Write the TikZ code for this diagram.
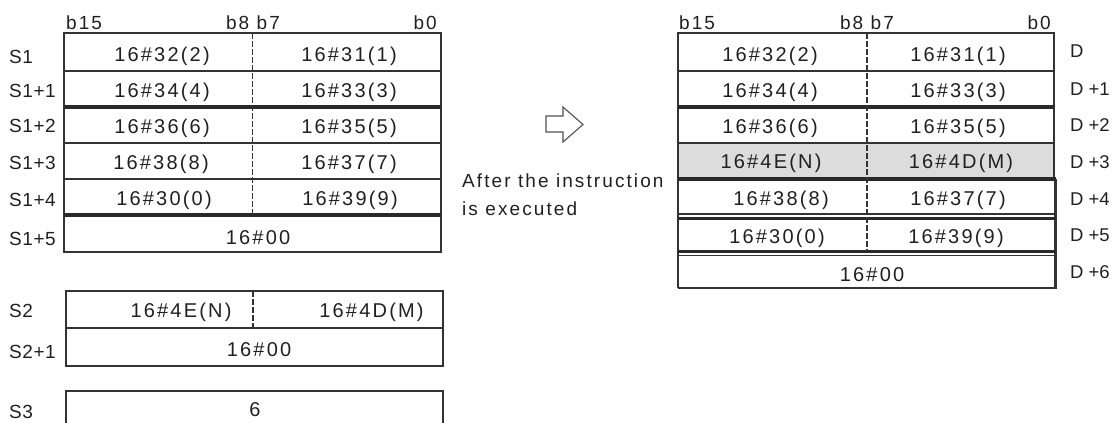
\documentclass[tikz,border=0pt]{standalone}
\usepackage{fontspec}
\setmainfont{Liberation Sans}
\newfontfamily\cellf[LetterSpace=11]{Liberation Sans}
\newfontfamily\labf[LetterSpace=3]{Liberation Sans}
\newfontfamily\rlabf{Liberation Sans}
\definecolor{ink}{HTML}{231F20}
\definecolor{rulec}{HTML}{333333}
\definecolor{cellgray}{HTML}{DCDCDC}
\begin{document}
\begin{tikzpicture}[x=1pt,y=-1pt,
  cell/.style={font=\cellf\fontsize{20}{24}\selectfont, anchor=base, inner sep=0, text=ink},
  lab/.style={font=\labf\fontsize{19}{23}\selectfont, anchor=base west, inner sep=0, text=ink},
  rlab/.style={font=\rlabf\fontsize{18.5}{22}\selectfont, anchor=base west, inner sep=0, text=ink},
  hdr/.style={font=\cellf\fontsize{19}{23}\selectfont, inner sep=0, text=ink},
  captext/.style={font=\cellf\fontsize{19}{23}\selectfont, anchor=base west, inner sep=0, text=ink},
  box/.style={draw=rulec, line width=1.8pt},
  rowline/.style={draw=rulec, line width=1.8pt},
  fineline/.style={draw=rulec, line width=1.3pt},
  heavyline/.style={draw=rulec!80!black, line width=3.5pt},
  divider/.style={draw=rulec, line width=1.6pt, dash pattern=on 6pt off 2pt},
]
\useasboundingbox (0,0) rectangle (1114,423);

% ---------- Left: S1 table ----------
\draw[box] (64,33) rectangle (441,252);
\draw[rowline] (64,71) -- (441,71);
\draw[heavyline] (64,107) -- (441,107);
\draw[rowline] (64,143) -- (441,143);
\draw[rowline] (64,179) -- (441,179);
\draw[heavyline] (64,215) -- (441,215);
\draw[divider] (252.5,33) -- (252.5,215);

\node[hdr, anchor=base west] (lb15) at (66,29) {b15};
\node[hdr, anchor=base] (lb87) at (253,29) {b8 b7};
\node[hdr, anchor=base east] (lb0) at (437,29) {b0};

\node[cell] (a1l) at (162,61.5) {16\#32(2)};
\node[cell] (a1r) at (349,61.5) {16\#31(1)};
\node[cell] (a2l) at (162,97.5) {16\#34(4)};
\node[cell] (a2r) at (349,97.5) {16\#33(3)};
\node[cell] (a3l) at (162,133) {16\#36(6)};
\node[cell] (a3r) at (349,133) {16\#35(5)};
\node[cell] (a4l) at (161,169) {16\#38(8)};
\node[cell] (a4r) at (349,169) {16\#37(7)};
\node[cell] (a5l) at (164,205) {16\#30(0)};
\node[cell] (a5r) at (350,205) {16\#39(9)};
\node[cell] (a6) at (258,244.5) {16\#00};

\node[lab] (s1) at (9,63) {S1};
\node[lab] (s11) at (9,97.5) {S1+1};
\node[lab] (s12) at (9,132.5) {S1+2};
\node[lab] (s13) at (9,169.5) {S1+3};
\node[lab] (s14) at (9,206) {S1+4};
\node[lab] (s15) at (9,245) {S1+5};

% ---------- S2 ----------
\draw[box] (66,291) rectangle (443,366);
\draw[rowline] (66,328) -- (443,328);
\draw[divider] (253,291) -- (253,328);
\node[cell] (b1l) at (181,317.5) {16\#4E(N)};
\node[cell] (b1r) at (371.5,317.5) {16\#4D(M)};
\node[cell] (b2) at (259,356.5) {16\#00};
\node[lab] (s2) at (9,317) {S2};
\node[lab] (s21) at (9,358) {S2+1};

% ---------- S3 ----------
\draw[box] (66,428) -- (66,391) -- (443,391) -- (443,428);
\node[cell] (c1) at (255,416) {6};
\node[lab] (s3) at (9,418) {S3};

% ---------- Arrow and caption ----------
\draw[draw=rulec!85, line width=1.1pt, fill=white, line join=miter]
  (546,116) -- (563,116) -- (563,107) -- (583,124.5) -- (563,142) -- (563,132) -- (546,132) -- cycle;
\node[captext] (cap1) at (462,187) {After the instruction};
\node[captext] (cap2) at (462,215) {is executed};

% ---------- Right: D table ----------
\fill[cellgray] (678,143) rectangle (1054,179);
\draw[box] (678,288) -- (678,33) -- (1054,33) -- (1054,179);
\draw[box, line width=2.5pt] (1055.5,179) -- (1055.5,288);
\draw[rowline] (678,71) -- (1054,71);
\draw[heavyline] (678,107) -- (1054,107);
\draw[rowline] (678,143) -- (1054,143);
\draw[heavyline] (678,179) -- (1056,179);
\draw[fineline] (678,214) -- (1056,214);
\draw[heavyline] (678,218.5) -- (1056,218.5);
\draw[heavyline] (678,251.5) -- (1056,251.5);
\draw[fineline] (678,255.5) -- (1056,255.5);
\draw[box] (678,288) -- (1056.7,288);
\draw[divider] (867,33) -- (867,251);

\node[hdr, anchor=base west] (rb15) at (679,29) {b15};
\node[hdr, anchor=base] (rb87) at (867,29) {b8 b7};
\node[hdr, anchor=base east] (rb0) at (1051,29) {b0};

\node[cell] (d0l) at (770,61) {16\#32(2)};
\node[cell] (d0r) at (958,61) {16\#31(1)};
\node[cell] (d1l) at (770,97) {16\#34(4)};
\node[cell] (d1r) at (958,97) {16\#33(3)};
\node[cell] (d2l) at (770,133) {16\#36(6)};
\node[cell] (d2r) at (958,133) {16\#35(5)};
\node[cell] (d3l) at (771,168.5) {16\#4E(N)};
\node[cell] (d3r) at (961,168.5) {16\#4D(M)};
\node[cell] (d4l) at (781,205) {16\#38(8)};
\node[cell] (d4r) at (958,205) {16\#37(7)};
\node[cell] (d5l) at (777,243) {16\#30(0)};
\node[cell] (d5r) at (956,243) {16\#39(9)};
\node[cell] (d6) at (872,281) {16\#00};

\node[rlab] (r0) at (1070,57) {D};
\node[rlab] (r1) at (1070,95) {D +1};
\node[rlab] (r2) at (1070,131.5) {D +2};
\node[rlab] (r3) at (1070,168) {D +3};
\node[rlab] (r4) at (1070,205) {D +4};
\node[rlab] (r5) at (1070,241.5) {D +5};
\node[rlab] (r6) at (1070,278) {D +6};
\end{tikzpicture}
\end{document}
